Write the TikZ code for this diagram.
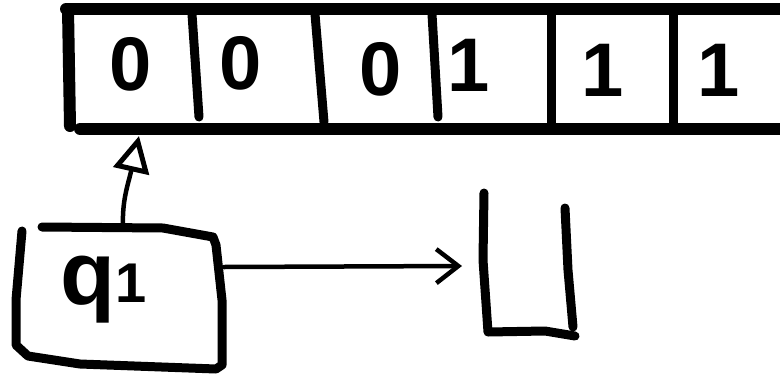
\documentclass[tikz,border=0pt]{standalone}
\usepackage{fontspec}
\setsansfont{Liberation Sans}
\usetikzlibrary{arrows.meta}
\begin{document}
\begin{tikzpicture}[x=1pt,y=-1pt,
  tapeline/.style={line width=12pt,line cap=round},
  divline/.style={line width=9pt,line cap=round},
  boxline/.style={line width=9pt,line cap=round,line join=round},
  arr/.style={line width=4.5pt,line cap=round},
  digit/.style={font=\fontsize{76}{78}\selectfont\sffamily\bfseries,inner sep=0pt}]
\useasboundingbox (0,0) rectangle (780,381);
% tape
\draw[tapeline] (66,9) -- (790,9);
\draw[tapeline] (68,9) -- (70,126);
\draw[tapeline] (80,129) -- (790,129);
\draw[divline] (192,14) -- (199,117);
\draw[divline] (315,14) -- (324,122);
\draw[divline] (432,14) -- (438,117);
\draw[divline] (551,14) -- (551,124);
\draw[divline] (673,14) -- (673,123);
% symbols
\node[digit] (c1) at (131,64) {0};
\node[digit] (c2) at (241,63) {0};
\node[digit] (c3) at (381,69) {0};
\node[digit] (c4) at (469,65) {1};
\node[digit] (c5) at (603,70) {1};
\node[digit] (c6) at (719,70) {1};
\coordinate (cell) at (139,136);
% head box
\node[minimum width=205pt,minimum height=140pt,inner sep=0pt] (head) at (120,298) {};
\draw[boxline] (42,227) -- (163,228) -- (213,237) -- (216,245) -- (222,300) -- (222,365) -- (216,369) -- (80,364) -- (28,356) -- (16,345) -- (16,300) -- (22,231);
\node[font=\fontsize{90}{92}\selectfont\sffamily\bfseries,inner sep=0pt] (state) at (104,290) {q\raisebox{2pt}{\fontsize{56}{58}\selectfont 1}};
\coordinate (headtop) at (123,227);
\draw[arr,-{Triangle[open,length=36pt,width=36pt,line width=5pt]}] (headtop) .. controls (122,200) and (128,185) .. (cell);
% blank cell
\node[minimum width=90pt,minimum height=140pt,inner sep=0pt] (blank) at (528,262) {};
\draw[boxline] (484,193) -- (483,260) -- (488,332) -- (545,331) -- (575,336);
\draw[boxline] (565,208) -- (568,270) -- (573,327);
\coordinate (headright) at (224,267);
\coordinate (blankin) at (462,266);
\draw[arr,-{Straight Barb[length=22pt,width=34pt,line width=4.5pt]}] (headright) -- (blankin);
\end{tikzpicture}
\end{document}
